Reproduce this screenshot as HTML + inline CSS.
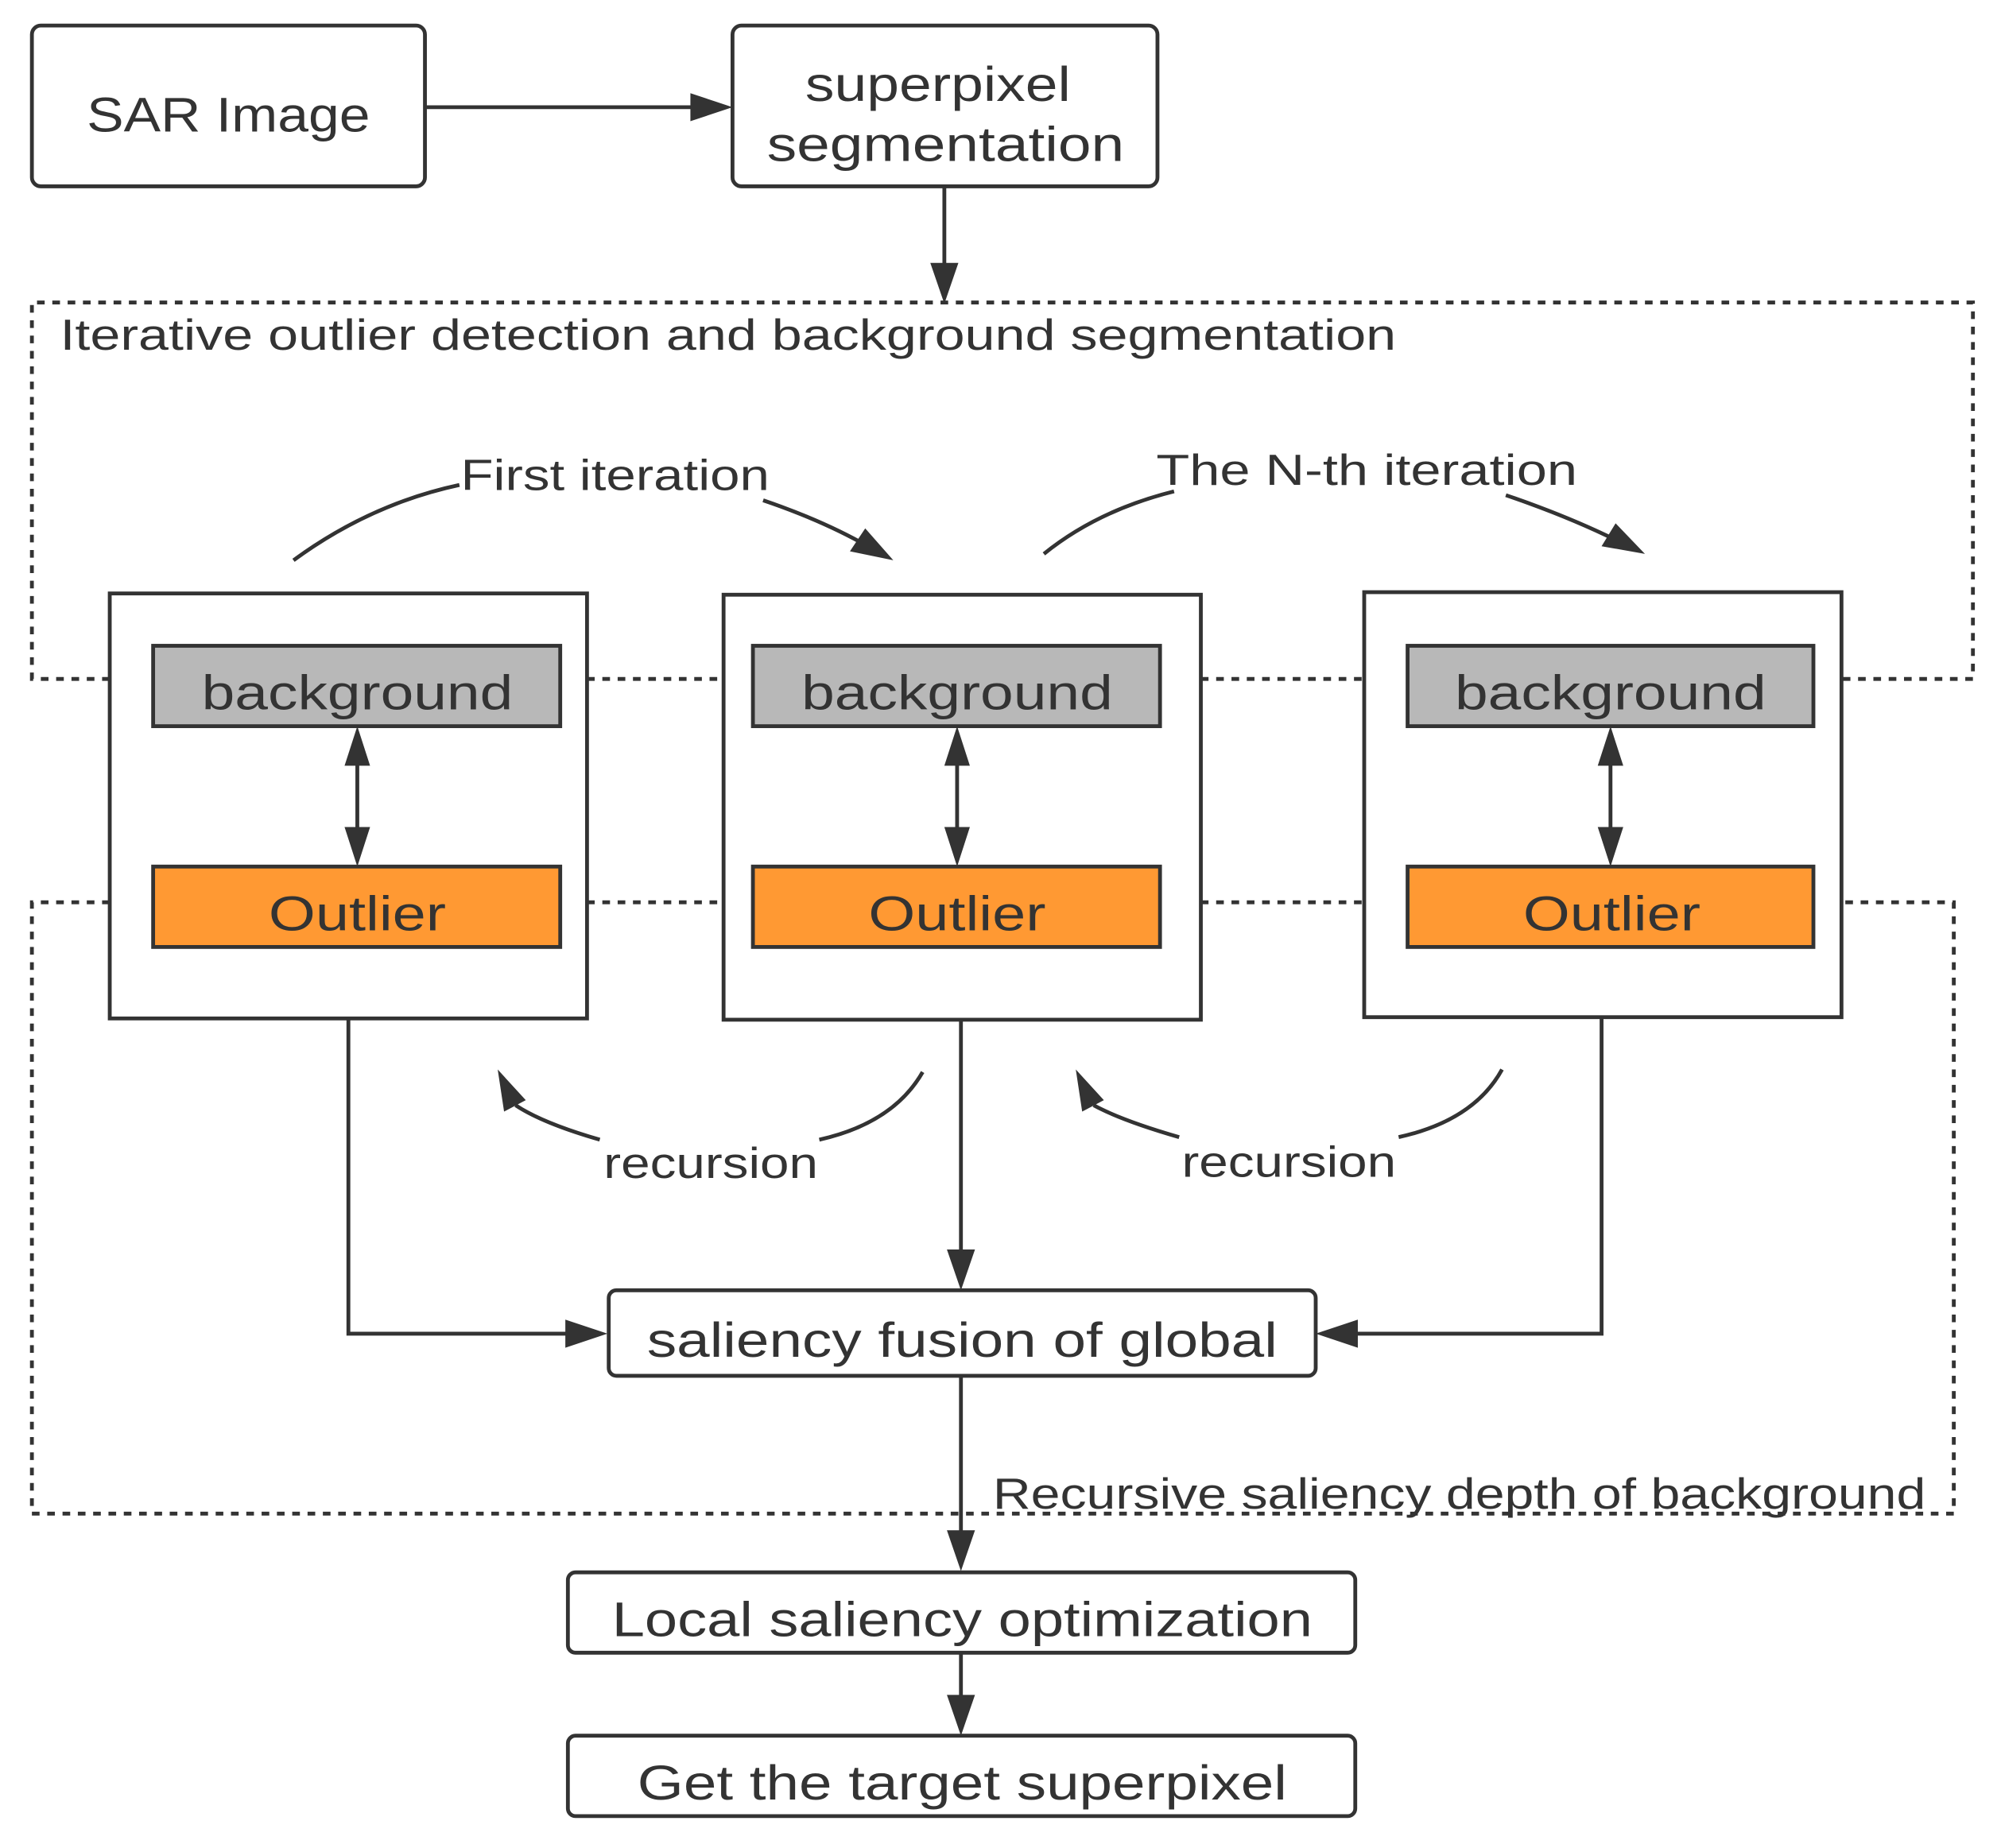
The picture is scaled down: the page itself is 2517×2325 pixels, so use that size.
<!DOCTYPE html>
<html><head><meta charset="utf-8"><style>
html,body{margin:0;padding:0;background:#fff;}
svg{display:block;}
text{font-family:"Liberation Sans",sans-serif;fill:#333;}
</style></head><body>
<svg width="2517" height="2325" viewBox="0 0 1568 1448" preserveAspectRatio="none" xmlns="http://www.w3.org/2000/svg">
<g fill="none" stroke="#333" stroke-width="3">
 <g stroke-dasharray="6,6">
  <polyline points="86,532 25,532 25,237 1546,237 1546,532 1443,532"/>
  <line x1="460" y1="532" x2="567" y2="532"/>
  <line x1="941" y1="532" x2="1069" y2="532"/>
  <polyline points="86,707 25,707 25,1186 1531,1186 1531,707 1443,707"/>
  <line x1="460" y1="707" x2="567" y2="707"/>
  <line x1="941" y1="707" x2="1069" y2="707"/>
 </g>
 <rect x="25" y="20" width="308" height="126" rx="7" fill="#fff"/>
 <rect x="574" y="20" width="333" height="126" rx="7" fill="#fff"/>
 <rect x="86" y="465" width="374" height="333" fill="#fff"/>
 <rect x="567" y="466" width="374" height="333" fill="#fff"/>
 <rect x="1069" y="464" width="374" height="333" fill="#fff"/>
 <rect x="120" y="506" width="319" height="63" fill="#b8b8b8"/>
 <rect x="590" y="506" width="319" height="63" fill="#b8b8b8"/>
 <rect x="1103" y="506" width="318" height="63" fill="#b8b8b8"/>
 <rect x="120" y="679" width="319" height="63" fill="#ff9933"/>
 <rect x="590" y="679" width="319" height="63" fill="#ff9933"/>
 <rect x="1103" y="679" width="318" height="63" fill="#ff9933"/>
 <rect x="477" y="1011" width="554" height="67" rx="6" fill="#fff"/>
 <rect x="445" y="1232" width="617" height="63" rx="6" fill="#fff"/>
 <rect x="445" y="1360" width="617" height="63" rx="6" fill="#fff"/>
 <line x1="333" y1="84" x2="548" y2="84"/>
 <line x1="740" y1="146" x2="740" y2="212"/>
 <line x1="280" y1="593" x2="280" y2="655"/>
 <line x1="750" y1="593" x2="750" y2="655"/>
 <line x1="1262" y1="593" x2="1262" y2="655"/>
 <polyline points="273,798 273,1045 450,1045"/>
 <line x1="753" y1="799" x2="753" y2="985"/>
 <polyline points="1255,797 1255,1045 1057,1045"/>
 <line x1="753" y1="1078" x2="753" y2="1205"/>
 <line x1="753" y1="1295" x2="753" y2="1334"/>
 <path d="M230,439 Q290,395 360,380"/>
 <path d="M598,392 Q645,408 680,428"/>
 <path d="M818,434 Q860,400 920,385"/>
 <path d="M1180,388 Q1230,405 1270,425"/>
 <path d="M723,840 Q700,880 642,893"/>
 <path d="M470,893 Q425,880 404,866"/>
 <path d="M1177,838 Q1155,878 1096,891"/>
 <path d="M924,891 Q879,878 857,866"/>
</g>
<g fill="#333">
 <polygon points="574,84 541,73 541,95"/>
 <polygon points="740,238 729,206 751,206"/>
 <polygon points="280,569 270,600 290,600"/><polygon points="280,679 270,648 290,648"/>
 <polygon points="750,569 740,600 760,600"/><polygon points="750,679 740,648 760,648"/>
 <polygon points="1262,569 1252,600 1272,600"/><polygon points="1262,679 1252,648 1272,648"/>
 <polygon points="476,1045 443,1034 443,1056"/>
 <polygon points="753,1011 742,979 764,979"/>
 <polygon points="1031,1045 1064,1034 1064,1056"/>
 <polygon points="753,1231 742,1199 764,1199"/>
 <polygon points="753,1360 742,1328 764,1328"/>
 <polygon points="700,439 666,432 678,414"/>
 <polygon points="1289,434 1255,428 1266,410"/>
 <polygon points="390,838 412,862 395,871"/>
 <polygon points="843,838 865,862 848,871"/>
</g>
<g font-size="38">
 <text x="179" y="103" text-anchor="middle" textLength="222" lengthAdjust="spacingAndGlyphs">SAR Image</text>
 <text x="735" y="79" text-anchor="middle" textLength="208" lengthAdjust="spacingAndGlyphs">superpixel</text>
 <text x="741" y="126" text-anchor="middle" textLength="280" lengthAdjust="spacingAndGlyphs">segmentation</text>
 <text x="280" y="556" text-anchor="middle" textLength="244" lengthAdjust="spacingAndGlyphs">background</text>
 <text x="750" y="556" text-anchor="middle" textLength="244" lengthAdjust="spacingAndGlyphs">background</text>
 <text x="1262" y="556" text-anchor="middle" textLength="244" lengthAdjust="spacingAndGlyphs">background</text>
 <text x="280" y="729" text-anchor="middle" textLength="139" lengthAdjust="spacingAndGlyphs">Outlier</text>
 <text x="750" y="729" text-anchor="middle" textLength="139" lengthAdjust="spacingAndGlyphs">Outlier</text>
 <text x="1263" y="729" text-anchor="middle" textLength="139" lengthAdjust="spacingAndGlyphs">Outlier</text>
 <text x="754" y="1063" text-anchor="middle" textLength="494" lengthAdjust="spacingAndGlyphs">saliency fusion of global</text>
 <text x="754" y="1282" text-anchor="middle" textLength="549" lengthAdjust="spacingAndGlyphs">Local saliency optimization</text>
 <text x="754" y="1410" text-anchor="middle" textLength="509" lengthAdjust="spacingAndGlyphs">Get the target superpixel</text>
</g>
<g font-size="34">
 <text x="47" y="274" textLength="1047" lengthAdjust="spacingAndGlyphs">Iterative outlier detection and background segmentation</text>
 <text x="361" y="384" textLength="242" lengthAdjust="spacingAndGlyphs">First iteration</text>
 <text x="906" y="380" textLength="330" lengthAdjust="spacingAndGlyphs">The N-th iteration</text>
 <text x="473" y="923" textLength="168" lengthAdjust="spacingAndGlyphs">recursion</text>
 <text x="926" y="922" textLength="168" lengthAdjust="spacingAndGlyphs">recursion</text>
 <text x="778" y="1182" textLength="731" lengthAdjust="spacingAndGlyphs">Recursive saliency depth of background</text>
</g>
</svg>
</body></html>
